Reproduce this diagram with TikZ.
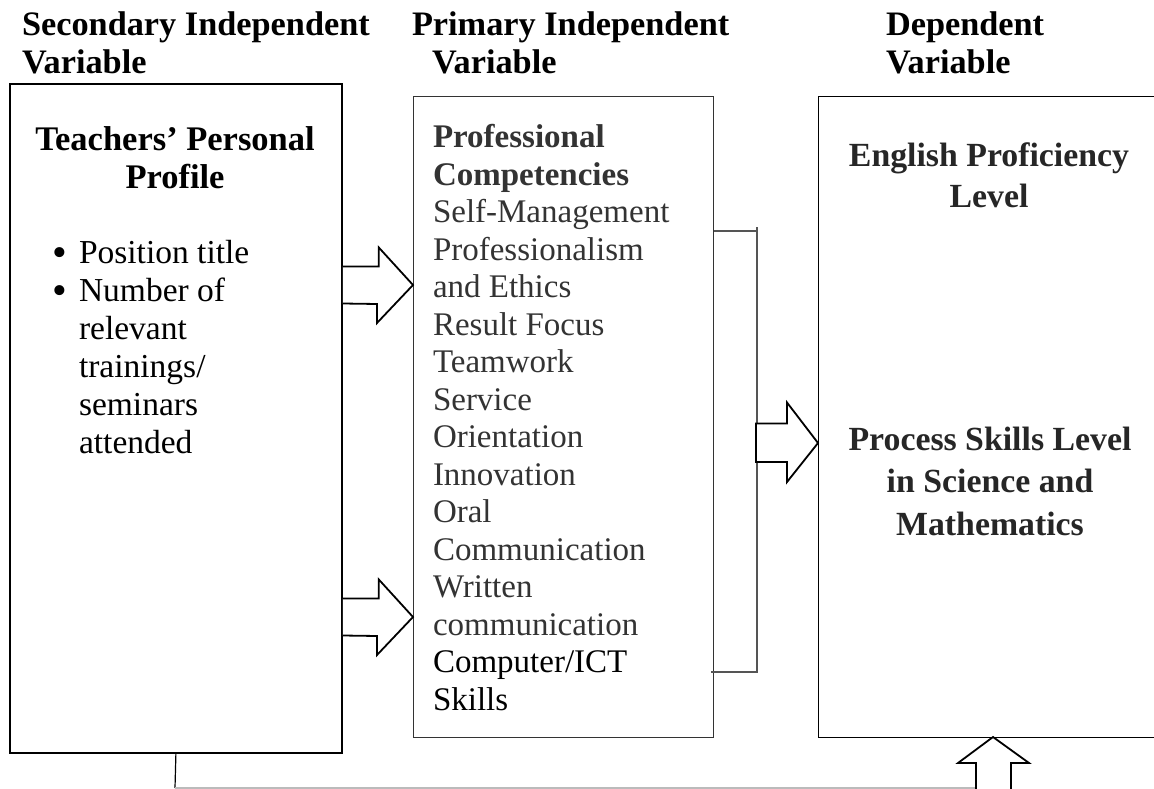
\documentclass[tikz,border=0pt]{standalone}
\usepackage{fontspec}
\setmainfont{Liberation Serif}
\usetikzlibrary{calc}
\definecolor{txtgray}{HTML}{333333}
\definecolor{depgray}{HTML}{262626}
\definecolor{brkgray}{HTML}{555555}
\definecolor{botgray}{HTML}{BBBBBB}
\begin{document}
\begin{tikzpicture}[x=1pt,y=-1pt,
  txt/.style={inner sep=0pt, outer sep=0pt, anchor=base west, font=\fontsize{33}{38}\selectfont},
  hdr/.style={txt, font=\fontsize{34.3}{38}\selectfont\bfseries},
  boxa/.style={draw, line width=1.8pt, inner sep=0pt, anchor=north west},
  boxb/.style={draw=txtgray, line width=1.1pt, inner sep=0pt, anchor=north west},
  blk/.style={draw, line width=1.8pt, fill=white, line join=miter},
  brk/.style={draw=brkgray, line width=1.1pt}]
\useasboundingbox (0,0) rectangle (1154,789);
\clip (0,0) rectangle (1154,789);

% headers
\node[hdr] (h1) at (22,36) {\parbox[t]{380pt}{Secondary Independent\\Variable}};
\node[hdr] (h2) at (412,36) {\parbox[t]{340pt}{Primary Independent\\\hspace*{20pt}Variable}};
\node[hdr] (h3) at (886,36) {\parbox[t]{260pt}{Dependent\\Variable}};

% boxes
\node[boxa, minimum width=332pt, minimum height=669pt] (sec) at (9,83) {};
\node[boxb, minimum width=300pt, minimum height=641pt] (pri) at (413,96) {};
\node[boxb, draw=black, minimum width=345pt, minimum height=641pt] (dep) at (818,96) {};

% left box text
\node[txt, anchor=base, font=\fontsize{34.5}{38}\selectfont\bfseries] (tp) at (175,150) {\parbox[t]{330pt}{\centering Teachers’ Personal\\Profile}};
\node[txt, font=\fontsize{42}{38}\selectfont] (bu1) at (52,266) {•};
\node[txt, font=\fontsize{42}{38}\selectfont] (bu2) at (52,304) {•};
\node[txt, font=\fontsize{33.5}{38}\selectfont] (pt) at (79,263) {\parbox[t]{250pt}{Position title}};
\node[txt, font=\fontsize{33.5}{38}\selectfont] (nr) at (79,301) {\parbox[t]{250pt}{Number of\\relevant\\trainings/\\seminars\\attended}};

% middle box text
\node[txt, text=txtgray, font=\fontsize{33}{37.47}\selectfont] (pc) at (433,148) {\parbox[t]{280pt}{\textbf{Professional\\Competencies}\\Self-Management\\Professionalism\\and Ethics\\Result Focus\\Teamwork\\Service\\Orientation\\Innovation\\Oral\\Communication\\Written\\communication\\{\color{black}Computer/ICT\\Skills}}};

% right box text
\node[txt, anchor=base, text=depgray, font=\fontsize{33.8}{40.5}\selectfont\bfseries] (ep) at (989,167) {\parbox[t]{320pt}{\centering English Proficiency\\Level}};
\node[txt, anchor=base, text=depgray, font=\fontsize{33.8}{42.5}\selectfont\bfseries] (ps) at (990,450) {\parbox[t]{320pt}{\centering Process Skills Level\\in Science and\\Mathematics}};

% bracket connector from middle box
\coordinate (bt) at (757,231);
\coordinate (bb) at (757,672);
\draw[brk] (pri.east |- bt) -- (bt);
\draw[brk] ($(bt)+(0,-4)$) -- (bb) -- ($(pri.east |- bb)+(-3,0)$);

% block arrows left -> middle
\coordinate (t1) at (413,285);
\coordinate (t2) at (413,617);
\foreach \t in {t1,t2}{
  \draw[blk] (sec.east |- \t) ++(0,-18.5) -- ++(36,0) -- ++(0,-19) -- (\t) -- ($(\t)+(-36,38)$) -- ++(0,-19) -- ($(sec.east |- \t)+(0,18.5)$);
}

% block arrow middle -> right
\coordinate (t3) at (dep.west |- 0,443);
\draw[blk] ($(t3)+(-62,-19.5)$) -- ++(31,0) -- ++(0,-21) -- (t3) -- ++(-31,39) -- ++(0,-20) -- ++(-31,0) -- cycle;

% bottom connector and up arrow
\coordinate (bc) at (175,788);
\coordinate (t4) at (993,737);
\draw[line width=1.2pt] (sec.south) -- (bc);
\draw[draw=botgray, line width=1.1pt] (bc) -- (976,788);
\draw[blk] (976,795) -- (976,763) -- (958,763) -- (t4) -- (1029,763) -- (1011,763) -- (1011,795);
\end{tikzpicture}
\end{document}
